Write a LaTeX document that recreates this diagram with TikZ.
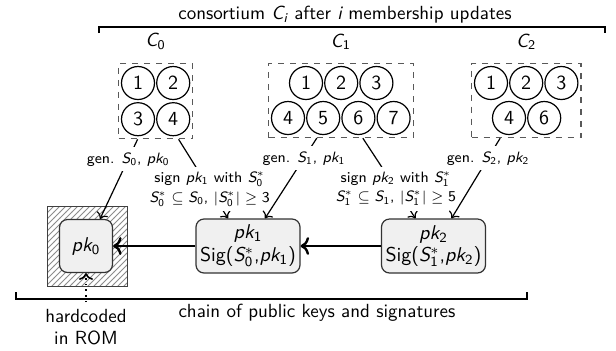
\documentclass[tikz,border=0pt]{standalone}
\usepackage{amsmath, amssymb}
\usetikzlibrary{arrows.meta, positioning, fit, patterns}
% sans serif letters and digits in math
\DeclareSymbolFont{letters}{TU}{lmss}{m}{sl}
\DeclareSymbolFont{operators}{TU}{lmss}{m}{n}

\begin{document}
\sffamily
\begin{tikzpicture}[
    x=0.5pt, y=-0.5pt,
    font=\fontsize{9.5}{11}\selectfont,
    member/.style={circle, draw=black, line width=0.6pt, minimum size=16.5pt,
                   inner sep=0pt, font=\fontsize{10}{12}\selectfont},
    group/.style={rectangle, draw=black!65, dashed, line width=0.6pt, inner sep=1.2pt},
    keybox/.style={rectangle, rounded corners=4pt, draw=black!80, fill=black!6,
                   line width=0.6pt, align=center, inner sep=1.5pt,
                   font=\fontsize{10}{11.2}\selectfont},
    romframe/.style={rectangle, draw=black!75, line width=0.5pt, minimum size=40pt,
                     pattern=north east lines, pattern color=black!45},
    lbl/.style={fill=white, align=center, inner sep=2.5pt,
                font=\fontsize{7.5}{9.8}\selectfont},
    arr/.style={->, line width=0.6pt},
    chainarr/.style={->, line width=1.2pt}
]
\useasboundingbox (0,0) rectangle (616,350);

% members of C_0
\node[member] (m01) at (138,83) {1};
\node[member, right=0.5pt of m01] (m02) {2};
\node[member, below=1pt of m01]  (m03) {3};
\node[member, right=0.5pt of m03] (m04) {4};

% members of C_1
\node[member] (m11) at (306,83) {1};
\node[member, right=0.5pt of m11] (m12) {2};
\node[member, right=0.5pt of m12] (m13) {3};
\node[member] (m14) at (288,118) {4};
\node[member, right=0.5pt of m14] (m15) {5};
\node[member, right=0.5pt of m15] (m16) {6};
\node[member, right=0.5pt of m16] (m17) {7};

% members of C_2
\node[member] (m21) at (491,83) {1};
\node[member, right=0.5pt of m21] (m22) {2};
\node[member, right=0.5pt of m22] (m23) {3};
\node[member] (m24) at (509,118) {4};
\node[member, right=0.5pt of m24] (m26) {6};

\node[group, fit=(m01)(m04)] (grp0) {};
\node[group, fit=(m11)(m14)(m17)] (grp1) {};
\node[group, fit=(m21)(m23)(m24)] (grp2) {};

\node[above=3pt of grp0] (cname0) {$C_0$};
\node[above=3pt of grp1] (cname1) {$C_1$};
\node[above=3pt of grp2] (cname2) {$C_2$};

% bracket over all consortia
\coordinate (topL) at (99,33);
\coordinate (topR) at (605,33);
\draw[line width=0.6pt] (topL) -- ++(0,-6) -| (topR);
\node (consortium) at (345,15) {consortium $C_i$ after $i$ membership updates};

% key chain
\node[romframe] (frame) at (87,246) {};
\node[keybox, minimum width=26.5pt, minimum height=26.5pt] (pk0) at (86,246) {$pk_0$};
\node[keybox, minimum width=52pt, minimum height=27pt] (pk1) at (248,246)
    {$pk_1$\\Sig($S_0^*$,$pk_1$)};
\node[keybox, minimum width=52pt, minimum height=27pt] (pk2) at (433.5,246)
    {$pk_2$\\Sig($S_1^*$,$pk_2$)};

\draw[chainarr] (pk1) -- (pk0);
\draw[chainarr] (pk2) -- (pk1);

\draw[arr] ([xshift=-9pt]grp0.south) -- node[lbl, pos=0.25] {gen. $S_0$, $pk_0$}
    ([xshift=7pt]pk0.north);
\draw[arr] ([xshift=11.5pt]grp0.south) -- node[lbl, pos=0.63]
    {sign $pk_1$ with $S_0^*$\\$S_0^*\subseteq S_0$, $|S_0^*|\geq 3$}
    ([xshift=-10pt]pk1.north);
\draw[arr] ([xshift=-12pt]grp1.south) -- node[lbl, pos=0.25] {gen. $S_1$, $pk_1$}
    ([xshift=8.5pt]pk1.north);
\draw[arr] ([xshift=11pt]grp1.south) -- node[lbl, pos=0.63]
    {sign $pk_2$ with $S_1^*$\\$S_1^*\subseteq S_1$, $|S_1^*|\geq 5$}
    ([xshift=-9pt]pk2.north);
\draw[arr] ([xshift=-13pt]grp2.south) -- node[lbl, pos=0.25] {gen. $S_2$, $pk_2$}
    ([xshift=9pt]pk2.north);

% bracket under the chain
\coordinate (botL) at (16,292);
\coordinate (botR) at (527,292);
\draw[line width=0.6pt] (botL) -- ++(0,7) -| (botR);
\node (chain) at (317,313) {chain of public keys and signatures};

\node[align=center] (rom) at (86,327) {hardcoded\\in ROM};
\draw[->, dotted, line width=0.8pt] (rom) -- (pk0);
\end{tikzpicture}
\end{document}
